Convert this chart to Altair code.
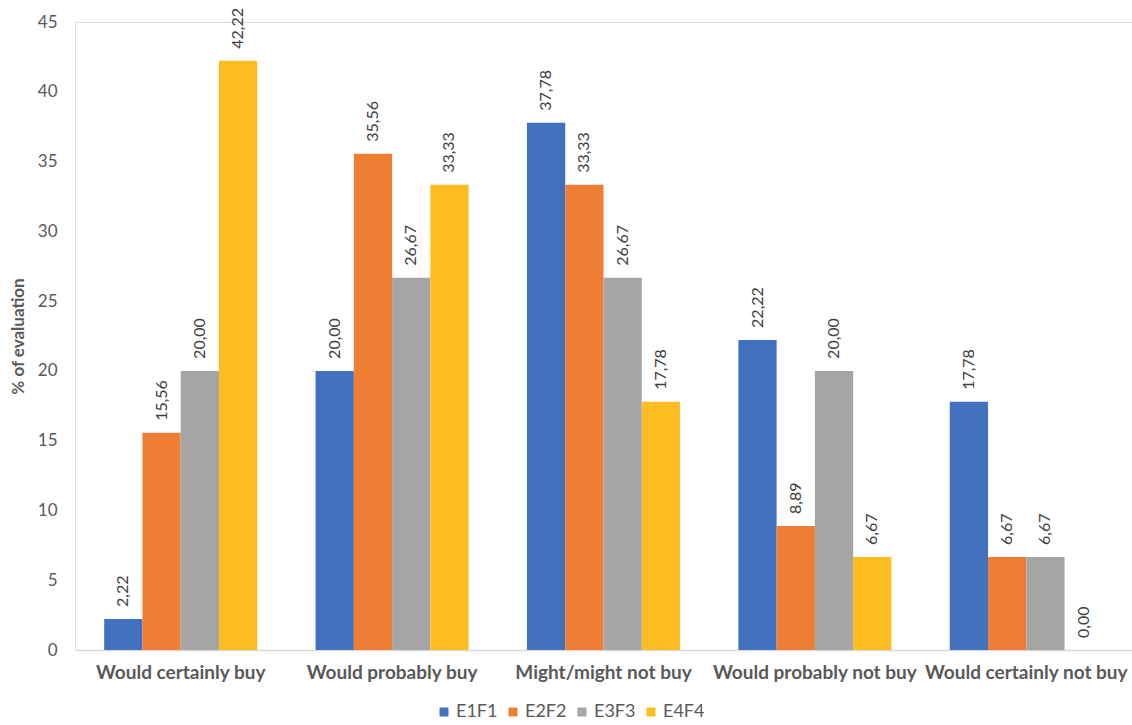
import altair as alt
import pandas as pd

categories = ["Would certainly buy", "Would probably buy", "Might/might not buy",
              "Would probably not buy", "Would certainly not buy"]
series = ["E1F1", "E2F2", "E3F3", "E4F4"]
values = {
    "E1F1": [2.22, 20.00, 37.78, 22.22, 17.78],
    "E2F2": [15.56, 35.56, 33.33, 8.89, 6.67],
    "E3F3": [20.00, 26.67, 26.67, 20.00, 6.67],
    "E4F4": [42.22, 33.33, 17.78, 6.67, 0.00],
}
colors = ["#4171BE", "#EE7E34", "#A5A5A5", "#FDBD22"]

rows = []
for s in series:
    for c, v in zip(categories, values[s]):
        rows.append({"cat": c, "series": s, "value": v,
                     "label": f"{v:.2f}".replace(".", ",")})
df = pd.DataFrame(rows)

FONT = "Lato"

x = alt.X("cat:N", sort=categories, title=None,
          scale=alt.Scale(paddingInner=0.276, paddingOuter=0.138),
          axis=alt.Axis(labelAngle=0, labelFontWeight="bold", labelFontSize=19,
                        labelColor="#595959", labelPadding=13, ticks=False, labelLimit=0,
                        domainColor="#D9D9D9", domainWidth=1.5, labelFont=FONT))
xoff = alt.XOffset("series:N", sort=series, scale=alt.Scale(paddingInner=0, paddingOuter=0))
y = alt.Y("value:Q", title="% of evaluation",
          scale=alt.Scale(domain=[0, 45], nice=False),
          axis=alt.Axis(values=list(range(0, 46, 5)), grid=False, domain=False, ticks=False,
                        labelFontSize=17, labelColor="#595959", labelPadding=18, labelFont=FONT,
                        titleFontSize=17, titleFontWeight="bold", titleColor="#595959",
                        titleFont=FONT, titleX=-57, titleY=314, titleAngle=270,
                        titleAlign="center", titleBaseline="middle"))

bars = alt.Chart(df).mark_bar(strokeWidth=0).encode(
    x=x, xOffset=xoff, y=y,
    color=alt.Color("series:N", sort=series,
                    scale=alt.Scale(domain=series, range=colors),
                    legend=alt.Legend(title=None, orient="none", direction="horizontal",
                                      legendX=360, legendY=681, symbolType="square",
                                      symbolSize=80, symbolStrokeWidth=0,
                                      labelFontSize=18, labelColor="#595959", labelFont=FONT,
                                      columnPadding=6, symbolOffset=0, labelOffset=3)),
)

text = alt.Chart(df).mark_text(angle=270, align="left", baseline="middle", dx=12,
                               fontSize=16, color="#404040", font=FONT).encode(
    x=x, xOffset=xoff, y=y, text="label:N")

chart = (bars + text).properties(
    width=1057, height=628,
    autosize=alt.AutoSizeParams(type="none"),
    padding={"left": 75, "top": 22, "right": 0, "bottom": 75},
).configure_view(stroke=None).configure(background="white")

chart.save("out.html", embed_options={"renderer": "svg", "actions": False})
